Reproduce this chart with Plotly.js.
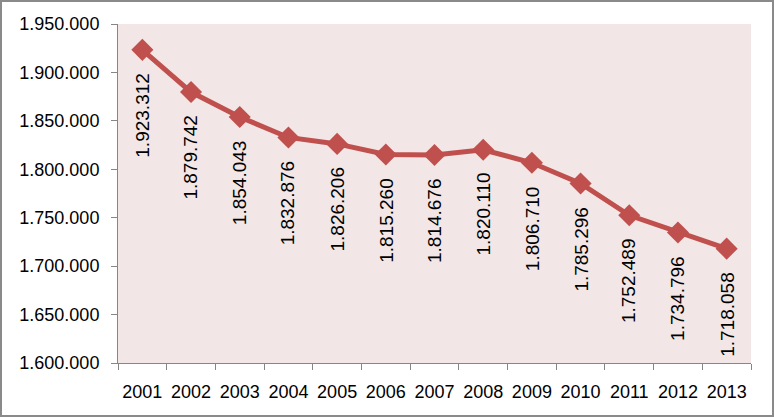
<!DOCTYPE html>
<html><head><meta charset="utf-8">
<script src="https://cdn.plot.ly/plotly-3.0.1.min.js"></script>
<style>html,body{margin:0;padding:0;background:#fff}#c{width:770px;height:413px;border:2px solid #8a8a8a;}</style>
</head><body><div id="c"></div>
<script>
const years = ['2001','2002','2003','2004','2005','2006','2007','2008','2009','2010','2011','2012','2013'];
const values = [1923312,1879742,1854043,1832876,1826206,1815260,1814676,1820110,1806710,1785296,1752489,1734796,1718058];
const yTicks = [1600000,1650000,1700000,1750000,1800000,1850000,1900000,1950000];

function fmt(n){return String(n).replace(/\B(?=(\d{3})+(?!\d))/g,'.');}
function mkFont(s){return {family:'Liberation Sans, Arial, sans-serif', size:s||18, color:'#000'};}
const annotations = years.map((y,i)=>({x:i,y:values[i],xref:'x',yref:'y',text:fmt(values[i]),
  textangle:-90,showarrow:false,xanchor:'center',yanchor:'top',yshift:-21,font:mkFont(19)}));

Plotly.newPlot('c',[{x:years,y:values,type:'scatter',mode:'lines+markers',
  line:{color:'#c0504d',width:5},marker:{symbol:'diamond',size:17,color:'#c0504d'},hoverinfo:'skip'}],
{width:770,height:413,margin:{l:116,r:21,t:22,b:52},
 paper_bgcolor:'#fff',plot_bgcolor:'#f2e6e6',separators:',.',showlegend:false,
 font:mkFont(),
 xaxis:{type:'category',range:[-0.5,12.5],tickson:'boundaries',ticks:'outside',ticklen:6,tickcolor:'#868686',tickangle:0,
   showline:true,linecolor:'#868686',linewidth:1,showgrid:false,zeroline:false,tickfont:mkFont(),ticklabelstandoff:12},
 yaxis:{range:[1600000,1950000],tickvals:yTicks,ticktext:yTicks.map(fmt),ticks:'outside',ticklen:6,tickcolor:'#868686',
   showline:true,linecolor:'#868686',linewidth:1,showgrid:false,zeroline:false,tickfont:mkFont(),ticklabelstandoff:8},
 annotations:annotations},{displayModeBar:false});
</script></body></html>
